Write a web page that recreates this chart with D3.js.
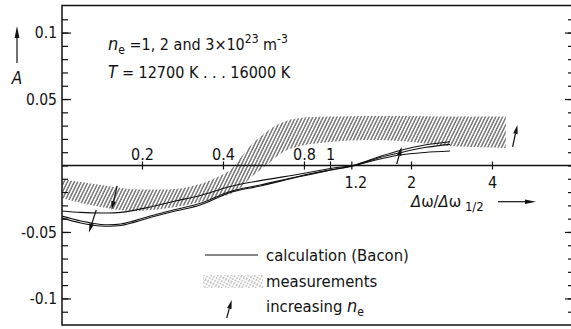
<!DOCTYPE html>
<html><head><meta charset="utf-8">
<script src="https://cdn.jsdelivr.net/npm/d3@7"></script>
<style>
html,body{margin:0;padding:0;background:#fff;}
svg{display:block;}
text{font-family:"Liberation Sans Narrow","DejaVu Sans Condensed","Roboto Condensed",sans-serif;fill:#111;}
</style></head><body>
<svg id="c" width="571" height="329"></svg>
<script>
// ---- data ----
const calcX  = [0.1, 0.118, 0.14, 0.166, 0.214, 0.265, 0.328, 0.424, 0.548, 0.771, 1.0, 1.234, 1.528, 1.81, 2.24, 2.78];
const calcNe1 = [-0.0342,-0.0353,-0.0357,-0.0353,-0.0312,-0.0267,-0.0226,-0.0158,-0.0114,-0.0064,-0.0023,0.0004,0.0049,0.0079,0.0098,0.0109];
const calcNe2 = [-0.0380,-0.0417,-0.0444,-0.0440,-0.0380,-0.0331,-0.0284,-0.0195,-0.0147,-0.0079,-0.0034,0.0000,0.0060,0.0096,0.0135,0.0159];
const calcNe3 = [-0.0395,-0.0432,-0.0455,-0.0451,-0.0391,-0.0342,-0.0297,-0.0203,-0.0154,-0.0083,-0.0034,0.0004,0.0068,0.0113,0.0154,0.0179];

const measX     = [0.1,0.118,0.14,0.1805,0.214,0.265,0.328,0.373,0.424,0.462,0.503,0.548,0.597,0.667,0.771,1.022,1.367,1.81,2.78,4.48];
const measUpper = [-0.0102,-0.0124,-0.0147,-0.0177,-0.0180,-0.0177,-0.0139,-0.0094,-0.0034,0.0056,0.0147,0.0214,0.0274,0.0327,0.0357,0.0368,0.0372,0.0372,0.0368,0.0368];
const measLower = [-0.0244,-0.0282,-0.0312,-0.0342,-0.0335,-0.0312,-0.0274,-0.0244,-0.0214,-0.0169,-0.0094,-0.0034,0.0026,0.0102,0.0147,0.0179,0.0192,0.0184,0.0147,0.0132];

// arrows "increasing n_e": [x1, y1, x2, y2] (head at x2,y2)
const neArrows = [
  [0.161, -0.0154, 0.1535, -0.0335],
  [0.1346, -0.0335, 0.1264, -0.0505],
  [1.762, 0.0011, 1.839, 0.0141],
  [4.75, 0.0141, 4.95, 0.0305]
];

const yTickValues = [0.1, 0.05, -0.05, -0.1];
const yTickLabels = ["0.1", "0.05", "-0.05", "-0.1"];
const xTicksAbove = [0.2, 0.4, 0.8, 1];
const xLabelsAbove = ["0.2", "0.4", "0.8", "1"];
const xTicksBelow = [1.2, 2, 4];
const xLabelsBelow = ["1.2", "2", "4"];

// ---- chart ----
const svg = d3.select("#c");
const L = 62, R = 572, T = 5.5, B = 325;
const x = d3.scaleLog().domain([0.1, 7.9]).range([61.5, 572]);
const y = d3.scaleLinear().domain([-0.12, 0.12]).range([325, 6]);

const defs = svg.append("defs");
defs.append("clipPath").attr("id","plot").append("rect")
  .attr("x", L).attr("y", T).attr("width", R-L).attr("height", B-T);
const pat = defs.append("pattern").attr("id","hatch").attr("patternUnits","userSpaceOnUse")
  .attr("width",3.1).attr("height",10).attr("patternTransform","rotate(26)");
pat.append("line").attr("x1",0.8).attr("y1",0).attr("x2",0.8).attr("y2",10)
  .attr("stroke","#2a2a2a").attr("stroke-width",0.95);
const pat2 = defs.append("pattern").attr("id","hatchL").attr("patternUnits","userSpaceOnUse")
  .attr("width",3).attr("height",10).attr("patternTransform","rotate(28)");
pat2.append("line").attr("x1",0.8).attr("y1",0).attr("x2",0.8).attr("y2",10)
  .attr("stroke","#888").attr("stroke-width",0.8).attr("stroke-dasharray","2,1");

const plot = svg.append("g").attr("clip-path","url(#plot)");

// measurement band
const band = measX.map((d,i)=>({x:d, lo:measLower[i], hi:measUpper[i]}));
plot.append("path").datum(band)
  .attr("d", d3.area().x(d=>x(d.x)).y0(d=>y(d.lo)).y1(d=>y(d.hi)).curve(d3.curveCatmullRom))
  .attr("fill","url(#hatch)").attr("stroke","none");

// zero line
svg.append("line").attr("x1",L).attr("x2",R).attr("y1",y(0)).attr("y2",y(0))
  .attr("stroke","#111").attr("stroke-width",1.3);

// calc curves
const line = d3.line().x(d=>x(d[0])).y(d=>y(d[1])).curve(d3.curveCatmullRom);
[calcNe1, calcNe2, calcNe3].forEach(s=>{
  plot.append("path").datum(calcX.map((d,i)=>[d, s[i]]))
    .attr("d", line).attr("fill","none").attr("stroke","#111").attr("stroke-width",1.1);
});

// arrows
function arrow(x1,y1,x2,y2,len=9,w=2.3){
  const dx=x2-x1, dy=y2-y1, l=Math.hypot(dx,dy), ux=dx/l, uy=dy/l;
  const bx=x2-ux*len, by=y2-uy*len;
  svg.append("line").attr("x1",x1).attr("y1",y1).attr("x2",bx).attr("y2",by)
    .attr("stroke","#111").attr("stroke-width",1.2);
  svg.append("polygon").attr("points",
    `${x2},${y2} ${bx-uy*w},${by+ux*w} ${bx+uy*w},${by-ux*w}`).attr("fill","#111");
}
neArrows.forEach(a=>arrow(x(a[0]),y(a[1]),x(a[2]),y(a[3])));

// frame
svg.append("rect").attr("x",L).attr("y",T).attr("width",R-L).attr("height",B-T)
  .attr("fill","none").attr("stroke","#111").attr("stroke-width",1.5);

// left axis ticks (inward)
svg.append("g").attr("transform",`translate(${L},0)`)
  .call(d3.axisRight(y).tickValues(d3.range(-11,12).map(i=>i/100)).tickSize(6).tickFormat(""))
  .call(g=>{g.select(".domain").remove(); g.selectAll("line").attr("stroke","#111").attr("stroke-width",1.2);});
svg.append("g").attr("transform",`translate(${L},0)`)
  .call(d3.axisRight(y).tickValues([-0.1,-0.05,0.05,0.1]).tickSize(9).tickFormat(""))
  .call(g=>{g.select(".domain").remove(); g.selectAll("line").attr("stroke","#111").attr("stroke-width",1.2);});
// right axis ticks (inward)
svg.append("g").attr("transform",`translate(${R},0)`)
  .call(d3.axisLeft(y).tickValues(d3.range(-11,12).map(i=>i/100)).tickSize(4).tickFormat(""))
  .call(g=>{g.select(".domain").remove(); g.selectAll("line").attr("stroke","#111").attr("stroke-width",1.2);});
svg.append("g").attr("transform",`translate(${R},0)`)
  .call(d3.axisLeft(y).tickValues([-0.1,-0.05,0.05,0.1]).tickSize(7).tickFormat(""))
  .call(g=>{g.select(".domain").remove(); g.selectAll("line").attr("stroke","#111").attr("stroke-width",1.2);});

// y labels
yTickValues.forEach((v,i)=>{
  svg.append("text").attr("x",57).attr("y",y(v)).attr("dy","0.36em")
    .attr("text-anchor","end").attr("font-size",15.5).text(yTickLabels[i]);
});

// x ticks on zero line
[...xTicksAbove, ...xTicksBelow].forEach(v=>{
  svg.append("line").attr("x1",x(v)).attr("x2",x(v)).attr("y1",y(0)-4).attr("y2",y(0)+4)
    .attr("stroke","#111").attr("stroke-width",1.2);
});
xTicksAbove.forEach((v,i)=>svg.append("text").attr("x",x(v)).attr("y",160)
  .attr("text-anchor","middle").attr("font-size",16).text(xLabelsAbove[i]));
xTicksBelow.forEach((v,i)=>svg.append("text").attr("x",x(v)+(v===1.2?4:0)).attr("y",188)
  .attr("text-anchor","middle").attr("font-size",16).text(xLabelsBelow[i]));

// x axis title
const xt = svg.append("text").attr("x",411).attr("y",207).attr("font-size",16.5);
xt.append("tspan").attr("font-style","italic").text("Δ");
xt.append("tspan").text("ω/");
xt.append("tspan").attr("font-style","italic").text("Δ");
xt.append("tspan").text("ω");
xt.append("tspan").attr("dy",4).attr("font-size",13).text(" 1/2");
arrow(498, 201.7, 536, 201.7, 11, 2.2);

// y axis title
svg.append("text").attr("x",17).attr("y",84).attr("text-anchor","middle")
  .attr("font-size",17).attr("font-style","italic").text("A");
arrow(17, 63, 17, 26, 12, 2.4);

// annotations
const t1 = svg.append("text").attr("x",108).attr("y",50).attr("font-size",16);
t1.append("tspan").attr("font-style","italic").attr("font-size",18).text("n");
t1.append("tspan").attr("dy",4).attr("font-size",12).text("e");
t1.append("tspan").attr("dy",-4).text(" =1, 2 and 3×10");
t1.append("tspan").attr("dy",-7).attr("font-size",12).text("23");
t1.append("tspan").attr("dy",7).text(" m");
t1.append("tspan").attr("dy",-7).attr("font-size",12).text("-3");

const t2 = svg.append("text").attr("x",108).attr("y",78).attr("font-size",16);
t2.append("tspan").attr("font-style","italic").attr("font-size",17).text("T");
t2.append("tspan").text("  = 12700 K . . . 16000 K");

// legend
svg.append("line").attr("x1",205).attr("x2",258).attr("y1",255).attr("y2",255)
  .attr("stroke","#111").attr("stroke-width",1.1);
svg.append("text").attr("x",266).attr("y",255).attr("dy","0.36em").attr("font-size",16.5).text("calculation (Bacon)");
svg.append("rect").attr("x",203).attr("y",275).attr("width",60).attr("height",13).attr("fill","url(#hatchL)");
svg.append("text").attr("x",266).attr("y",281.5).attr("dy","0.36em").attr("font-size",16.5).text("measurements");
arrow(226.7, 318, 231.7, 300, 9, 2.3);
const t3 = svg.append("text").attr("x",266).attr("y",306).attr("dy","0.36em").attr("font-size",16.5);
t3.append("tspan").text("increasing ");
t3.append("tspan").attr("font-style","italic").attr("font-size",18).text("n");
t3.append("tspan").attr("dy",4).attr("font-size",12).text("e");
</script>
</body></html>
